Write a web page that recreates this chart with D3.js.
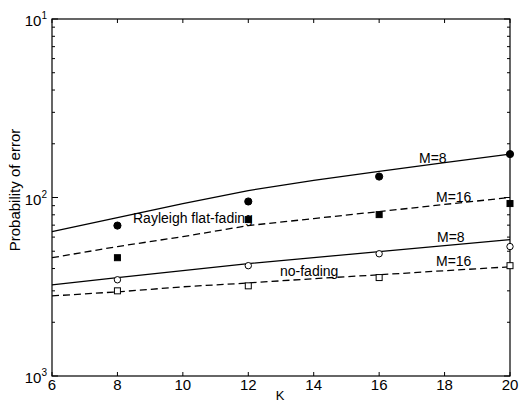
<!DOCTYPE html>
<html>
<head>
<meta charset="UTF-8">
<script src="https://cdn.jsdelivr.net/npm/d3@7"></script>
<style>
  body { margin: 0; background: #fff; }
  svg { font-family: "Liberation Sans", Arial, sans-serif; }
  .curve { fill: none; stroke: #000; stroke-width: 1.3px; }
  .dash { stroke-dasharray: 7,4; }
</style>
</head>
<body>
<script>
// analysis curves, K on x axis
var K = [6, 8, 10, 12, 14, 16, 18, 20];
var rayM8  = [6.44e-3, 7.72e-3, 9.25e-3, 1.094e-2, 1.247e-2, 1.40e-2, 1.57e-2, 1.75e-2];
var rayM16 = [4.60e-3, 5.31e-3, 6.04e-3, 6.96e-3, 7.62e-3, 8.34e-3, 9.14e-3, 1.00e-2];
var noM8   = [3.24e-3, 3.56e-3, 3.89e-3, 4.26e-3, 4.60e-3, 4.98e-3, 5.38e-3, 5.81e-3];
var noM16  = [2.81e-3, 2.96e-3, 3.16e-3, 3.32e-3, 3.51e-3, 3.69e-3, 3.89e-3, 4.09e-3];

// simulation points
var Ksim = [8, 12, 16, 20];
var simRayM8  = [6.96e-3, 9.5e-3, 1.31e-2, 1.75e-2];
var simRayM16 = [4.6e-3, 7.52e-3, 8.02e-3, 9.25e-3];
var simNoM8   = [3.46e-3, 4.15e-3, 4.84e-3, 5.31e-3];
var simNoM16  = [3.0e-3, 3.2e-3, 3.56e-3, 4.15e-3];

var xTicks = [6, 8, 10, 12, 14, 16, 18, 20];
var yTicks = [1e-3, 1e-2, 1e-1];
var yExp = ["3", "2", "1"];

var W = 521, H = 402;
var pLeft = 52, pRight = 510, pTop = 19, pBottom = 376;

var svg = d3.select("body").append("svg").attr("width", W).attr("height", H);

var x = d3.scaleLinear().domain([6, 20]).range([pLeft, pRight]);
var y = d3.scaleLog().domain([1e-3, 1e-1]).range([pBottom, pTop]);

// frame
svg.append("rect").attr("x", pLeft).attr("y", pTop)
  .attr("width", pRight - pLeft).attr("height", pBottom - pTop)
  .attr("fill", "none").attr("stroke", "#000").attr("stroke-width", 1.2);

// x ticks, inside, bottom and top
var tk = 4;
xTicks.forEach(function(v) {
  svg.append("line").attr("x1", x(v)).attr("x2", x(v)).attr("y1", pBottom).attr("y2", pBottom - tk).attr("stroke", "#000");
  svg.append("line").attr("x1", x(v)).attr("x2", x(v)).attr("y1", pTop).attr("y2", pTop + tk).attr("stroke", "#000");
  svg.append("text").attr("x", x(v)).attr("y", 390).attr("text-anchor", "middle")
    .attr("font-size", 15).text(v);
});

// y ticks, log minors
var minors = [];
for (var e = -3; e < -1; e++) for (var m = 2; m <= 9; m++) minors.push(m * Math.pow(10, e));
minors.forEach(function(v) {
  svg.append("line").attr("x1", pLeft).attr("x2", pLeft + 3).attr("y1", y(v)).attr("y2", y(v)).attr("stroke", "#000");
  svg.append("line").attr("x1", pRight).attr("x2", pRight - 3).attr("y1", y(v)).attr("y2", y(v)).attr("stroke", "#000");
});
yTicks.forEach(function(v, i) {
  svg.append("line").attr("x1", pLeft).attr("x2", pLeft + 6).attr("y1", y(v)).attr("y2", y(v)).attr("stroke", "#000");
  svg.append("line").attr("x1", pRight).attr("x2", pRight - 6).attr("y1", y(v)).attr("y2", y(v)).attr("stroke", "#000");
  var t = svg.append("text").attr("x", 47).attr("y", y(v) + 7).attr("text-anchor", "end").attr("font-size", 15);
  t.append("tspan").text("10");
  t.append("tspan").attr("dy", -7).attr("font-size", 10).text(yExp[i]);
});

// curves
var line = d3.line().x(function(d) { return x(d[0]); }).y(function(d) { return y(d[1]); });
function curve(vals, dashed) {
  svg.append("path").datum(d3.zip(K, vals)).attr("class", "curve" + (dashed ? " dash" : ""))
    .attr("d", line);
}
curve(rayM8, false);
curve(rayM16, true);
curve(noM8, false);
curve(noM16, true);

// markers
function pts(vals, shape, filled) {
  var g = svg.append("g");
  d3.zip(Ksim, vals).forEach(function(d) {
    var cx = x(d[0]), cy = y(d[1]);
    var el;
    if (shape === "circle") el = g.append("circle").attr("cx", cx).attr("cy", cy).attr("r", filled ? 3.6 : 3.2);
    else el = g.append("rect").attr("x", cx - 3).attr("y", cy - 3).attr("width", 6).attr("height", 6);
    el.attr("fill", filled ? "#000" : "#fff").attr("stroke", "#000").attr("stroke-width", 1);
  });
}
pts(simRayM8, "circle", true);
pts(simRayM16, "rect", true);
pts(simNoM8, "circle", false);
pts(simNoM16, "rect", false);

// annotations
function lab(tx, ty, s) {
  svg.append("text").attr("x", tx).attr("y", ty).attr("font-size", 14).text(s);
}
lab(419, 163, "M=8");
lab(436, 202, "M=16");
lab(437, 242, "M=8");
lab(436, 266, "M=16");
lab(133, 223, "Rayleigh flat-fading");
lab(280, 276, "no-fading");

// axis titles
svg.append("text").attr("transform", "translate(20,190) rotate(-90)")
  .attr("text-anchor", "middle").attr("font-size", 15).text("Probability of error");
svg.append("text").attr("x", 280).attr("y", 400).attr("text-anchor", "middle")
  .attr("font-size", 13).text("K");
</script>
</body>
</html>
